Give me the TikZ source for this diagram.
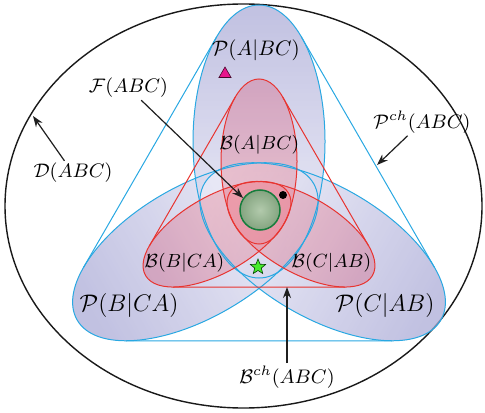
\documentclass[tikz,border=0pt]{standalone}
\usepackage{fix-cm}
\usetikzlibrary{shapes.geometric,arrows.meta}
\definecolor{pline}{RGB}{41,168,226}
\definecolor{rline}{RGB}{232,52,48}
\definecolor{pOut}{RGB}{172,172,215}
\definecolor{pIn}{RGB}{236,236,248}
\definecolor{rOut}{RGB}{216,98,128}
\definecolor{rIn}{RGB}{242,140,152}
\definecolor{gIn}{RGB}{178,202,172}
\definecolor{gOut}{RGB}{132,164,128}
\definecolor{gLine}{RGB}{22,125,60}
\definecolor{triFill}{RGB}{232,22,140}
\definecolor{starFill}{RGB}{70,235,45}
\tikzset{
  pshade/.style={top color=pOut, bottom color=pIn, opacity=0.75},
  rshade/.style={top color=rOut, bottom color=rIn, opacity=0.38},
  pedge/.style={draw=pline, line width=0.5pt},
  redge/.style={draw=rline, line width=0.5pt},
  outer/.style={draw=black!90, line width=0.7pt},
  arr/.style={draw=black!88, line width=0.6pt, -{Stealth[length=5.5pt,width=4pt]}},
  biglbl/.style={inner sep=1pt, font=\fontsize{12}{14}\selectfont},
  midlbl/.style={inner sep=1pt, font=\fontsize{10.5}{12}\selectfont},
  blbl/.style={inner sep=1pt, font=\fontsize{9.5}{11}\selectfont},
  smlbl/.style={inner sep=1pt, font=\fontsize{9.8}{11}\selectfont},
}
\begin{document}
\begin{tikzpicture}[x=0.5pt,y=0.5pt]
\useasboundingbox (0,0) rectangle (485,412);

% outer set D(ABC)
\draw[outer] (243.5,206) ellipse [x radius=238.5, y radius=202];

% P ellipses (fills)
\begin{scope}[shift={(259,197)}]
  \shade[pshade, shading angle=0, rotate=90] (73.5,0) ellipse [x radius=136.5, y radius=66];
  \shade[pshade, shading angle=120, rotate=210] (73.5,0) ellipse [x radius=136.5, y radius=66];
  \shade[pshade, shading angle=240, rotate=330] (73.5,0) ellipse [x radius=136.5, y radius=66];
\end{scope}
% B ellipses (fills)
\begin{scope}[shift={(259,202)}]
  \shade[rshade, shading angle=0, rotate=90] (48.5,0) ellipse [x radius=82.5, y radius=38];
  \shade[rshade, shading angle=120, rotate=210] (48.5,0) ellipse [x radius=82.5, y radius=38];
  \shade[rshade, shading angle=240, rotate=330] (48.5,0) ellipse [x radius=82.5, y radius=38];
\end{scope}
% outlines
\begin{scope}[shift={(259,197)}]
  \draw[pedge, rotate=90] (73.5,0) ellipse [x radius=136.5, y radius=66];
  \draw[pedge, rotate=210] (73.5,0) ellipse [x radius=136.5, y radius=66];
  \draw[pedge, rotate=330] (73.5,0) ellipse [x radius=136.5, y radius=66];
  \coordinate (hA1) at (103.38:183.1);
  \coordinate (hB1) at (196.62:183.1);
  \coordinate (hB2) at (223.38:183.1);
  \coordinate (hC2) at (316.62:183.1);
  \coordinate (hC1) at (343.38:183.1);
  \coordinate (hA2) at (76.62:183.1);
\end{scope}
\begin{scope}[shift={(259,202)}]
  \draw[redge, rotate=90] (48.5,0) ellipse [x radius=82.5, y radius=38];
  \draw[redge, rotate=210] (48.5,0) ellipse [x radius=82.5, y radius=38];
  \draw[redge, rotate=330] (48.5,0) ellipse [x radius=82.5, y radius=38];
  \coordinate (rA1) at (101.85:115.45);
  \coordinate (rB1) at (198.15:115.45);
  \coordinate (rB2) at (221.85:115.45);
  \coordinate (rC2) at (318.15:115.45);
  \coordinate (rC1) at (341.85:115.45);
  \coordinate (rA2) at (78.15:115.45);
\end{scope}
% convex hulls
\draw[pedge] (hA1) -- (hB1) (hB2) -- (hC2) (hC1) -- (hA2);
\draw[redge] (rA1) -- (rB1) (rB2) -- (rC2) (rC1) -- (rA2);

% F(ABC) disc and markers
\shade[inner color=gIn, outer color=gOut] (260,202) circle [radius=20];
\draw[draw=gLine, line width=0.75pt] (260,202) circle [radius=20];
\node[circle, fill=black, inner sep=0pt, minimum size=4pt] (dot) at (283,217) {};
\node[regular polygon, regular polygon sides=3, fill=triFill, draw=black!70!triFill, line width=0.3pt, inner sep=0pt, minimum size=7pt] (tri) at (225,338) {};
\node[star, star points=5, star point ratio=2.3, fill=starFill, draw=black!75!green, line width=0.3pt, inner sep=0pt, minimum size=8pt] (st) at (258,145) {};

% labels
\node[midlbl] (lPA) at (256,362) {$\mathcal{P}(A|BC)$};
\node[biglbl] (lPB) at (129,107) {$\mathcal{P}(B|CA)$};
\node[biglbl] (lPC) at (385,107) {$\mathcal{P}(C|AB)$};
\node[blbl] (lBA) at (259.5,267) {$\mathcal{B}(A|BC)$};
\node[blbl] (lBB) at (184.5,149) {$\mathcal{B}(B|CA)$};
\node[blbl] (lBC) at (331.5,149) {$\mathcal{B}(C|AB)$};
\node[smlbl] (lD) at (73,239) {$\mathcal{D}(ABC)$};
\node[smlbl] (lF) at (128.5,324) {$\mathcal{F}(ABC)$};
\node[smlbl] (lPch) at (422,290) {$\mathcal{P}^{ch}(ABC)$};
\node[smlbl] (lBch) at (287,35) {$\mathcal{B}^{ch}(ABC)$};

% arrows
\coordinate (ftip) at (243,214);
\coordinate (dtip) at (33,296);
\coordinate (ptip) at (377,247);
\coordinate (btip) at (287,125);
\draw[arr] (lF) -- (ftip);
\draw[arr] (lD) -- (dtip);
\draw[arr] (lPch) -- (ptip);
\draw[arr] (lBch) -- (btip);
\end{tikzpicture}
\end{document}
